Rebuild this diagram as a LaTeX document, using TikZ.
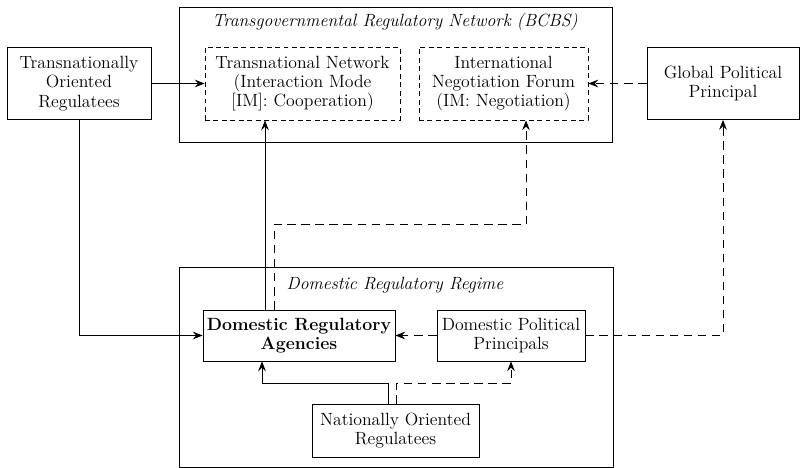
\documentclass[tikz,border=0pt]{standalone}
\usetikzlibrary{arrows.meta,calc}
\begin{document}
\begin{tikzpicture}[x=0.25mm,y=-0.25mm,
    txt/.style={font=\fontsize{12.6}{13.8}\selectfont},
    frame/.style={draw, line width=0.6pt, inner sep=0pt},
    box/.style={frame, txt, align=center},
    mode/.style={box, dash pattern=on 3.5pt off 2.5pt},
    arr/.style={line width=0.6pt, -{Stealth[length=7pt,width=5.5pt,inset=2.5pt]}},
    darr/.style={arr, dash pattern=on 6pt off 4pt}]
    \useasboundingbox (0,0) rectangle (800,467);

    % Outer frames
    \node[frame, minimum width=108.25mm, minimum height=33.75mm] (tgn) at (395.5,74.5) {};
    \node[frame, minimum width=108.5mm, minimum height=50mm] (drr) at (396,367) {};
    \node[txt, font=\fontsize{12.6}{13.8}\selectfont\itshape] (tgntitle) at (395,22) {Transgovernmental Regulatory Network (BCBS)};
    \node[txt, font=\fontsize{12.6}{13.8}\selectfont\itshape] (drrtitle) at (395,285) {Domestic Regulatory Regime};

    % Interaction modes
    \node[mode, minimum width=48.75mm, minimum height=18.25mm] (tnet) at (302.5,83.5) {Transnational Network\\(Interaction Mode\\{}[IM]: Cooperation)};
    \node[mode, minimum width=42.25mm, minimum height=18.25mm] (inf) at (503.5,83.5) {International\\Negotiation Forum\\(IM: Negotiation)};

    % Actors outside
    \node[box, minimum width=36mm, minimum height=18mm] (tor) at (79,83.5) {Transnationally\\Oriented\\Regulatees};
    \node[box, minimum width=38mm, minimum height=18mm] (gpp) at (723,83.5) {Global Political\\Principal};

    % Domestic actors
    \node[box, minimum width=48mm, minimum height=12.75mm, font=\fontsize{12.6}{13.8}\selectfont\bfseries] (dra) at (299,335.5) {Domestic Regulatory\\Agencies};
    \node[box, minimum width=37mm, minimum height=12.75mm] (dpp) at (511,335.5) {Domestic Political\\Principals};
    \node[box, minimum width=41.75mm, minimum height=13.25mm] (nor) at (395.5,430.5) {Nationally Oriented\\Regulatees};

    % Links
    \draw[arr] (tor.east) -- (tnet.west);
    \draw[arr] (tor.south) |- (dra.west);
    \draw[arr] ($(dra.north)+(-34,0)$) coordinate (up1) -- (up1 |- tnet.south);
    \draw[darr] ($(dra.north)+(-25,0)$) |- ($(inf.south)+(22.5,104)$) -- ($(inf.south)+(22.5,0)$);
    \draw[darr] (gpp.west) -- (inf.east);
    \draw[darr] (dpp.west) -- (dra.east);
    \draw[darr] (dpp.east) -| (gpp.south);
    \draw[arr] ($(nor.north)+(-7.5,0)$) |- ($(dra.south)+(-37,22)$) -- ($(dra.south)+(-37,0)$);
    \draw[darr] ($(nor.north)+(0.5,0)$) |- ($(dpp.south)+(0,22)$) -- (dpp.south);
\end{tikzpicture}
\end{document}
